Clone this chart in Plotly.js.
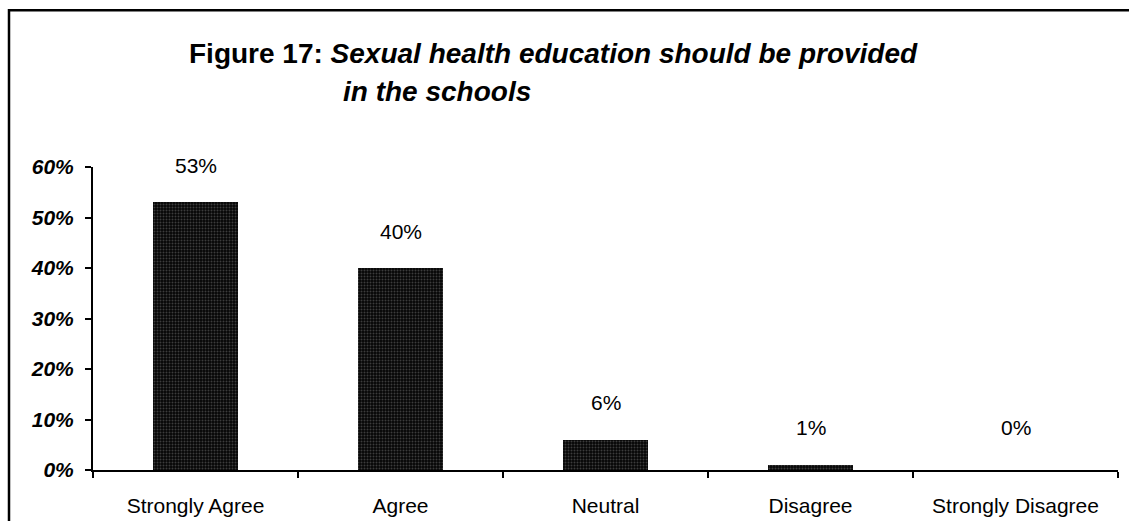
<!DOCTYPE html>
<html>
<head>
<meta charset="utf-8">
<script src="https://cdn.plot.ly/plotly-3.0.1.min.js"></script>
<style>
html,body{margin:0;padding:0;background:#fff;}
#chart{width:1129px;height:521px;}
</style>
</head>
<body>
<div id="chart"></div>
<script>
var categories = ["Strongly Agree", "Agree", "Neutral", "Disagree", "Strongly Disagree"];
var values = [0.53, 0.40, 0.06, 0.01, 0.00];
var valueLabels = ["53%", "40%", "6%", "1%", "0%"];
var yTickVals = [0, 0.1, 0.2, 0.3, 0.4, 0.5, 0.6];
var yTickText = ["0%", "10%", "20%", "30%", "40%", "50%", "60%"];
var titleLine1 = "<b>Figure 17: <i>Sexual health education should be provided</i></b>";
var titleLine2 = "<b><i>in the schools</i></b>";

var trace = {
  type: "bar",
  x: categories,
  y: values,
  width: 0.415,
  marker: {
    color: "#050505",
    line: {color: "#000", width: 0},
    pattern: {shape: ".", fgcolor: "#3c3c3c", bgcolor: "#050505", size: 3, solidity: 0.35}
  },
  hoverinfo: "none"
};

var annotations = categories.map(function (c, i) {
  return {
    x: c, y: values[i], xref: "x", yref: "y",
    text: valueLabels[i], showarrow: false,
    yanchor: "middle", yshift: values[i] === 0 ? 43 : 37,
    font: {family: "Liberation Sans, Arial, sans-serif", size: 21, color: "#000"}
  };
});
annotations.push({
  xref: "paper", yref: "paper", x: (187 - 93) / 1025, y: (470 - 53) / 303.3,
  xanchor: "left", yanchor: "middle", showarrow: false, text: titleLine1,
  font: {family: "Liberation Sans, Arial, sans-serif", size: 28, color: "#000"}
});
annotations.push({
  xref: "paper", yref: "paper", x: (341 - 93) / 1025, y: (470 - 91) / 303.3,
  xanchor: "left", yanchor: "middle", showarrow: false, text: titleLine2,
  font: {family: "Liberation Sans, Arial, sans-serif", size: 28, color: "#000"}
});

var layout = {
  width: 1129, height: 521,
  margin: {l: 93, r: 11, t: 167, b: 51, pad: 0},
  paper_bgcolor: "#fff", plot_bgcolor: "#fff",
  showlegend: false,
  bargap: 0,
  xaxis: {
    type: "category",
    showline: true, linecolor: "#000", linewidth: 2,
    ticks: "outside", ticklen: 6, tickwidth: 2, tickcolor: "#000",
    tickson: "boundaries",
    showgrid: false, zeroline: false,
    ticklabelstandoff: 16,
    tickfont: {family: "Liberation Sans, Arial, sans-serif", size: 21, color: "#000"},
    fixedrange: true
  },
  yaxis: {
    range: [0, 0.6],
    tickvals: yTickVals, ticktext: yTickText,
    showline: true, linecolor: "#000", linewidth: 2,
    ticks: "outside", ticklen: 6, tickwidth: 2, tickcolor: "#000",
    showgrid: false, zeroline: false,
    ticklabelstandoff: 7,
    tickfont: {family: "Liberation Sans, Arial, sans-serif", size: 21, color: "#000", weight: "bold", style: "italic"},
    fixedrange: true
  },
  annotations: annotations,
  shapes: [{
    type: "rect", xref: "paper", yref: "paper",
    x0: (9 - 93) / 1025, x1: (1145 - 93) / 1025,
    y0: (470 - 545) / 303.3, y1: (470 - 9.7) / 303.3,
    line: {color: "#000", width: 2.5}, fillcolor: "rgba(0,0,0,0)", layer: "above"
  }]
};

Plotly.newPlot("chart", [trace], layout, {displayModeBar: false, staticPlot: true});
</script>
</body>
</html>
